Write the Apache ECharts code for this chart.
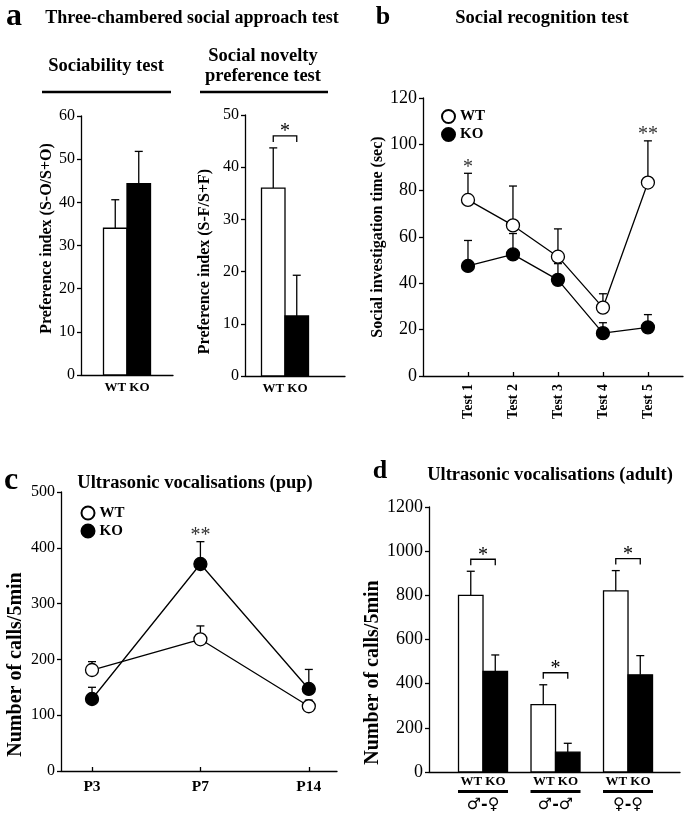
<!DOCTYPE html>
<html>
<head>
<meta charset="utf-8">
<script src="https://cdn.jsdelivr.net/npm/echarts@6/dist/echarts.min.js"></script>
<style>
html,body{margin:0;padding:0;background:#fff;}
#chart{width:685px;height:816px;}
</style>
</head>
<body>
<div id="chart"></div>
<script>
// ---------- DATA ----------
// Panel a: three-chambered social approach test
const aGroupLabel = ['WT KO'];
const socWT = [34.0];
const socWTsem = [6.6];
const socKO = [44.3];
const socKOsem = [7.5];
const socSig = [''];
const novWT = [36.0];
const novWTsem = [7.7];
const novKO = [11.5];
const novKOsem = [7.8];
const novSig = ['*'];

// Panel b: social recognition test
const recogTests = ['Test 1', 'Test 2', 'Test 3', 'Test 4', 'Test 5'];
const recogWT = [76, 65, 51.5, 29.5, 83.5];
const recogWTsem = [11.5, 17, 12, 6, 18];
const recogKO = [47.5, 52.5, 41.5, 18.5, 21];
const recogKOsem = [11, 9, 7, 4.5, 5.5];
const recogSig = ['*', '', '', '', '**'];

// Panel c: ultrasonic vocalisations (pup)
const pupAges = ['P3', 'P7', 'P14'];
const pupWT = [181, 236, 116];
const pupWTsem = [15, 24, 11];
const pupKO = [129, 371, 147];
const pupKOsem = [21, 40, 35];
const pupSig = ['', '**', ''];

// Panel d: ultrasonic vocalisations (adult)
const adultPairs = ['♂-♀', '♂-♂', '♀-♀'];
const adultWT = [800, 305, 820];
const adultWTsem = [109, 90, 92];
const adultKO = [455, 90, 440];
const adultKOsem = [75, 40, 87];
const adultSig = ['*', '*', '*'];

// ---------- HELPERS ----------
const SERIF = "'Liberation Serif','Times New Roman',Times,serif";
const LW = 1.3;
const pos = arr => arr.map((_, i) => i + 1);

function barSeries(axis, means, side, fill, bw) {
  return {
    type: 'custom', xAxisIndex: axis, yAxisIndex: axis, silent: true, z: 3,
    encode: { x: 0, y: 1 },
    data: means.map((m, i) => [i + 1, m]),
    renderItem: function (params, api) {
      const p0 = api.coord([api.value(0), 0]);
      const p1 = api.coord([api.value(0), api.value(1)]);
      const left = side < 0 ? p0[0] - bw : p0[0];
      return { type: 'rect', shape: { x: left, y: p1[1], width: bw, height: p0[1] - p1[1] },
        style: { fill: fill, stroke: '#000', lineWidth: LW } };
    }
  };
}
function errSeries(axis, means, sems, offset) {
  return {
    type: 'custom', xAxisIndex: axis, yAxisIndex: axis, silent: true, z: 2,
    encode: { x: 0, y: [1, 2] },
    data: means.map((m, i) => [i + 1, m, m + sems[i]]),
    renderItem: function (params, api) {
      const p0 = api.coord([api.value(0), api.value(1)]);
      const p1 = api.coord([api.value(0), api.value(2)]);
      const cx = p0[0] + offset;
      const st = { stroke: '#000', lineWidth: LW };
      return { type: 'group', children: [
        { type: 'line', shape: { x1: cx, y1: p0[1], x2: cx, y2: p1[1] }, style: st },
        { type: 'line', shape: { x1: cx - 4, y1: p1[1], x2: cx + 4, y2: p1[1] }, style: st }
      ] };
    }
  };
}
function sigSeries(axis, wt, wts, ko, kos, labels, bracketHalf, color) {
  return {
    type: 'custom', xAxisIndex: axis, yAxisIndex: axis, silent: true, z: 4,
    encode: { x: 0, y: 1 },
    data: wt.map((m, i) => [i + 1, Math.max(m + wts[i], ko[i] + kos[i])]),
    renderItem: function (params, api) {
      const lab = labels[params.dataIndex];
      if (!lab) return null;
      const p = api.coord([api.value(0), api.value(1)]);
      const children = [];
      let starY;
      if (bracketHalf > 0) {
        const by = p[1] - 12;
        const st = { stroke: '#000', lineWidth: LW, fill: null };
        children.push({ type: 'polyline', shape: { points: [[p[0] - bracketHalf, by + 6], [p[0] - bracketHalf, by], [p[0] + bracketHalf, by], [p[0] + bracketHalf, by + 6]] }, style: st });
        starY = by - 8;
      } else {
        starY = p[1] - 10;
      }
      children.push({ type: 'text', style: { text: lab, x: p[0], y: starY + 4, align: 'center', verticalAlign: 'middle',
        font: '20px ' + SERIF, fill: color } });
      return { type: 'group', children: children };
    }
  };
}
function lineSeries(axis, name, means, filled) {
  return {
    type: 'line', name: name, xAxisIndex: axis, yAxisIndex: axis, silent: true, z: 5,
    data: means.map((m, i) => [i + 1, m]),
    symbol: 'circle', symbolSize: 13,
    itemStyle: { color: filled ? '#000' : '#fff', borderColor: '#000', borderWidth: LW },
    lineStyle: { color: '#000', width: LW },
    emphasis: { disabled: true }
  };
}
function yAxis(grid, max, interval, name, nameSize, nameGap, labelSize, pad) {
  return {
    type: 'value', gridIndex: grid, min: 0, max: max, interval: interval,
    name: name, nameLocation: 'middle', nameGap: nameGap,
    nameTextStyle: { fontFamily: SERIF, fontWeight: 'bold', fontSize: nameSize, color: '#000', padding: pad },
    axisLine: { show: true, lineStyle: { color: '#000', width: LW } },
    axisTick: { show: true, inside: false, length: 4, lineStyle: { color: '#000', width: LW } },
    axisLabel: { fontFamily: SERIF, fontSize: labelSize, color: '#000', margin: 6, formatter: v => String(v) },
    splitLine: { show: false }
  };
}
function xAxis(grid, min, max, vals, fmt, opts) {
  opts = opts || {};
  return {
    type: 'value', gridIndex: grid, min: min, max: max,
    axisLine: { show: true, onZero: false, lineStyle: { color: '#000', width: LW } },
    axisTick: { show: !!opts.ticks, inside: true, length: 4, customValues: vals, lineStyle: { color: '#000', width: LW } },
    axisLabel: Object.assign({ customValues: vals, formatter: fmt, fontFamily: SERIF, fontWeight: 'bold',
      fontSize: 14, color: '#000', margin: 6 }, opts.label || {}),
    splitLine: { show: false }
  };
}

const chart = echarts.init(document.getElementById('chart'), null, { renderer: 'canvas' });

const titleText = (t, x, y, size) => ({ type: 'text', silent: true, style: { text: t, x: x, y: y,
  align: 'center', verticalAlign: 'middle', font: 'bold ' + size + 'px ' + SERIF, fill: '#000' } });
const hline = (x1, x2, y, w) => ({ type: 'line', silent: true, shape: { x1: x1, y1: y, x2: x2, y2: y },
  style: { stroke: '#000', lineWidth: w } });

const option = {
  animation: false,
  backgroundColor: '#fff',
  grid: [
    { left: 81, top: 116, width: 92, height: 259 },
    { left: 245, top: 115, width: 100, height: 261 },
    { left: 423, top: 98, width: 260, height: 278 },
    { left: 61, top: 492, width: 276, height: 279 },
    { left: 429, top: 507, width: 251, height: 265 }
  ],
  xAxis: [
    xAxis(0, 0.5, 1.5, pos(aGroupLabel), v => aGroupLabel[Math.round(v) - 1], { label: { fontSize: 13, margin: 6 } }),
    xAxis(1, 0.6, 1.6, pos(aGroupLabel), v => aGroupLabel[Math.round(v) - 1], { label: { fontSize: 13, margin: 6 } }),
    xAxis(2, 0, 5.78, pos(recogTests), v => recogTests[Math.round(v) - 1], { ticks: true, label: { rotate: 90, fontSize: 14, margin: 8 } }),
    xAxis(3, 0.714, 3.26, pos(pupAges), v => pupAges[Math.round(v) - 1], { ticks: true, label: { fontSize: 15.5, margin: 8 } }),
    xAxis(4, 0.255, 3.717, pos(adultPairs), v => '{a|WT KO}\n{l|}\n{g|' + adultPairs[Math.round(v) - 1] + '}', {
      label: { margin: 2, rich: {
        a: { fontFamily: SERIF, fontWeight: 'bold', fontSize: 13, lineHeight: 16, color: '#000' },
        l: { width: 50, height: 3, lineHeight: 3, fontSize: 1, backgroundColor: '#000' },
        g: { fontFamily: "'DejaVu Sans',sans-serif", fontSize: 16, lineHeight: 24, color: '#000' }
      } } })
  ],
  yAxis: [
    yAxis(0, 60, 10, 'Preference index (S-O/S+O)', 16, 26, 16, [0, 0, 0, 14]),
    yAxis(1, 50, 10, 'Preference index (S-F/S+F)', 16, 32, 16, [0, 32, 0, 0]),
    yAxis(2, 120, 20, 'Social investigation time (sec)', 16, 33, 18, [0, 0, 0, 0]),
    yAxis(3, 500, 100, 'Number of calls/5min', 20, 35, 16, [0, 66, 0, 0]),
    yAxis(4, 1200, 200, 'Number of calls/5min', 20, 45, 18, [0, 66, 0, 0])
  ],
  legend: [
    { left: 436, top: 104, orient: 'vertical', itemWidth: 13, itemHeight: 13, itemGap: 3, selectedMode: false,
      data: [{ name: 'WT', icon: 'circle' }, { name: 'KO', icon: 'circle' }],
      textStyle: { fontFamily: SERIF, fontWeight: 'bold', fontSize: 15, color: '#000' } },
    { left: 75.5, top: 500.5, orient: 'vertical', itemWidth: 13, itemHeight: 13, itemGap: 3, selectedMode: false,
      data: [{ name: 'WT', icon: 'circle' }, { name: 'KO', icon: 'circle' }],
      textStyle: { fontFamily: SERIF, fontWeight: 'bold', fontSize: 15, color: '#000' } }
  ],
  series: [
    // a - sociability
    barSeries(0, socWT, -1, '#fff', 23.5),
    barSeries(0, socKO, 1, '#000', 23.5),
    errSeries(0, socWT, socWTsem, -11.75),
    errSeries(0, socKO, socKOsem, 11.75),
    sigSeries(0, socWT, socWTsem, socKO, socKOsem, socSig, 11.75, '#000'),
    // a - social novelty
    barSeries(1, novWT, -1, '#fff', 23.5),
    barSeries(1, novKO, 1, '#000', 23.5),
    errSeries(1, novWT, novWTsem, -11.75),
    errSeries(1, novKO, novKOsem, 11.75),
    sigSeries(1, novWT, novWTsem, novKO, novKOsem, novSig, 11.75, '#000'),
    // b
    errSeries(2, recogWT, recogWTsem, 0),
    errSeries(2, recogKO, recogKOsem, 0),
    lineSeries(2, 'KO', recogKO, true),
    lineSeries(2, 'WT', recogWT, false),
    sigSeries(2, recogWT, recogWTsem, recogKO, recogKOsem, recogSig, 0, '#333'),
    // c
    errSeries(3, pupWT, pupWTsem, 0),
    errSeries(3, pupKO, pupKOsem, 0),
    lineSeries(3, 'WT', pupWT, false),
    lineSeries(3, 'KO', pupKO, true),
    sigSeries(3, pupWT, pupWTsem, pupKO, pupKOsem, pupSig, 0, '#333'),
    // d
    barSeries(4, adultWT, -1, '#fff', 24.5),
    barSeries(4, adultKO, 1, '#000', 24.5),
    errSeries(4, adultWT, adultWTsem, -12.25),
    errSeries(4, adultKO, adultKOsem, 12.25),
    sigSeries(4, adultWT, adultWTsem, adultKO, adultKOsem, adultSig, 12.25, '#000')
  ],
  graphic: [
    titleText('a', 14, 17, 32),
    titleText('Three-chambered social approach test', 192, 18, 18),
    titleText('Sociability test', 106, 66, 18.5),
    hline(42, 171, 92, 2.5),
    titleText('Social novelty', 263, 56, 18.5),
    titleText('preference test', 263, 76, 18.5),
    hline(200, 328, 92, 2.5),
    titleText('b', 383, 17, 26),
    titleText('Social recognition test', 542, 18, 18.5),
    titleText('c', 11, 481, 32),
    titleText('Ultrasonic vocalisations (pup)', 195, 483, 18.5),
    titleText('d', 380, 471, 26),
    titleText('Ultrasonic vocalisations (adult)', 550, 475, 18.5)
  ]
};
chart.setOption(option);
</script>
</body>
</html>
